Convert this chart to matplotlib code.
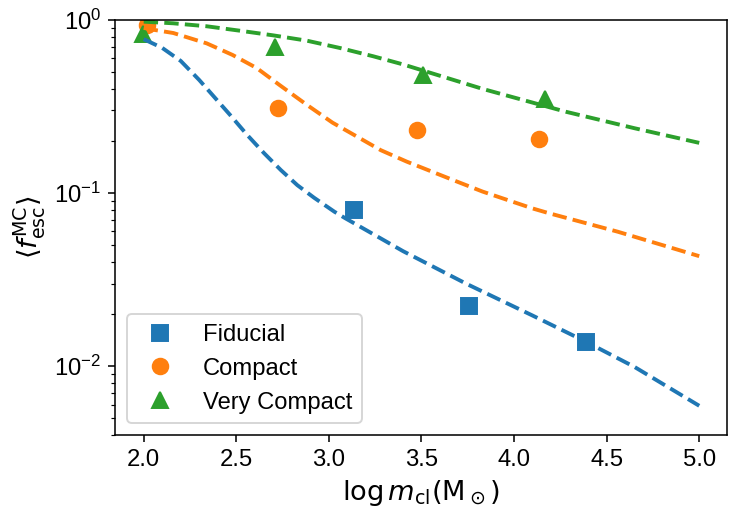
import matplotlib
matplotlib.use("Agg")
import matplotlib.pyplot as plt

plt.rcParams['font.family'] = ['Liberation Sans', 'DejaVu Sans']
plt.rcParams['mathtext.fontset'] = 'custom'
plt.rcParams['mathtext.rm'] = 'Liberation Sans'
plt.rcParams['mathtext.it'] = 'Liberation Sans:italic'
plt.rcParams['mathtext.bf'] = 'Liberation Sans:bold'

# Simulation points
fid_x = [3.135, 3.757, 4.389]
fid_y = [0.0797, 0.0222, 0.0137]
com_x = [2.02, 2.724, 3.476, 4.135]
com_y = [0.935, 0.309, 0.231, 0.205]
vc_x = [1.995, 2.708, 3.51, 4.168]
vc_y = [0.827, 0.698, 0.478, 0.349]

# Model curves
fid_line_x = [2.0, 2.1, 2.2, 2.3, 2.38, 2.47, 2.56, 2.65, 2.74, 2.83, 2.92, 3.03,
              3.09, 3.28, 3.40, 3.74, 4.1, 4.39, 4.65, 5.0]
fid_line_y = [0.775, 0.69, 0.58, 0.45, 0.36, 0.28, 0.216, 0.17, 0.136, 0.111, 0.094,
              0.078, 0.0714, 0.0547, 0.0462, 0.030, 0.0196, 0.0138, 0.0099, 0.0059]
com_line_x = [2.0, 2.05, 2.16, 2.34, 2.48, 2.61, 2.735, 2.88, 3.02, 3.10, 3.28, 3.42,
              3.67, 3.83, 4.1, 4.19, 4.56, 5.0]
com_line_y = [0.90, 0.879, 0.841, 0.733, 0.628, 0.528, 0.42, 0.324, 0.255, 0.228, 0.177,
              0.152, 0.119, 0.102, 0.0815, 0.0764, 0.0598, 0.0432]
vc_line_x = [2.0, 2.16, 2.34, 2.52, 2.70, 2.88, 3.06, 3.24, 3.40, 3.83, 4.28, 4.65, 5.0]
vc_line_y = [0.978, 0.957, 0.920, 0.867, 0.815, 0.760, 0.689, 0.617, 0.554, 0.40, 0.295,
             0.237, 0.195]

labels = ['Fiducial', 'Compact', 'Very Compact']
xticks = [2.0, 2.5, 3.0, 3.5, 4.0, 4.5, 5.0]

fig = plt.figure(figsize=(747/140, 526/140), dpi=140)
ax = fig.add_axes([115/747, 1-435/526, (727-115)/747, (435-20)/526])

ms = 8
ax.plot(fid_x, fid_y, 's', color='C0', ms=ms, label=labels[0])
ax.plot(com_x, com_y, 'o', color='C1', ms=ms, label=labels[1])
ax.plot(vc_x, vc_y, '^', color='C2', ms=ms, label=labels[2])

ax.plot(fid_line_x, fid_line_y, '--', color='C0', lw=2)
ax.plot(com_line_x, com_line_y, '--', color='C1', lw=2)
ax.plot(vc_line_x, vc_line_y, '--', color='C2', lw=2)

ax.set_yscale('log')
ax.set_ylim(0.004, 1.0)
ax.set_xlim(1.845, 5.15)
ax.set_xticks(xticks)
ax.set_xticklabels([f'{t:.1f}' for t in xticks])
ax.tick_params(labelsize=12.3)

ax.set_xlabel(r'$\log m_{\rm cl}(\rm M_\odot)$', fontsize=14, math_fontfamily='dejavusans')
ax.set_ylabel(r'$\langle f^{\rm MC}_{\rm esc}\rangle$', fontsize=14, math_fontfamily='dejavusans')

ax.legend(loc='lower left', fontsize=12.2)

fig.savefig('out.png', dpi=140)
